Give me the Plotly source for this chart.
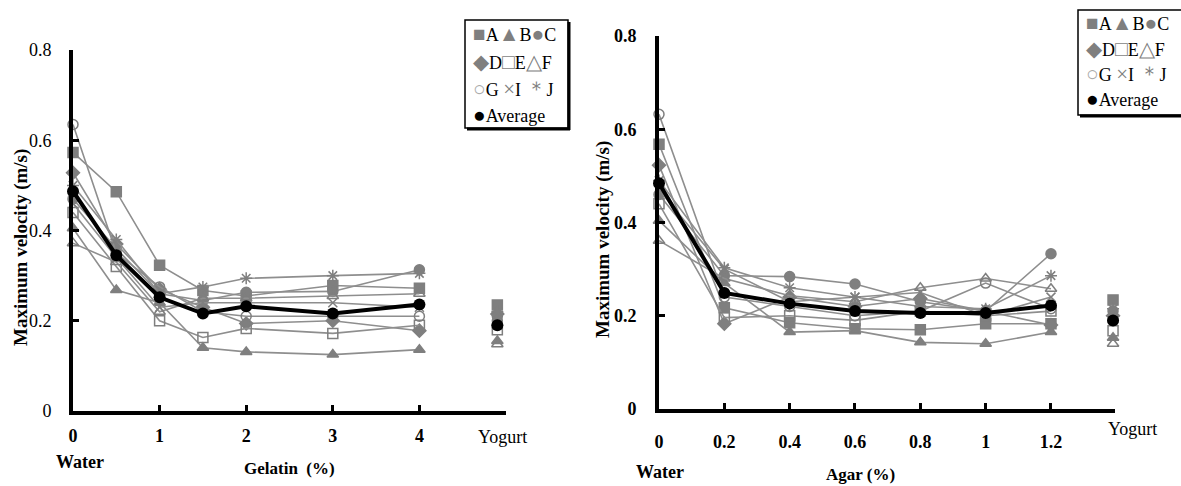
import plotly.graph_objects as go

W, H = 1181, 486

# ---------------- data ----------------
gelatin_x = [0, 0.5, 1, 1.5, 2, 3, 4]
agar_x = [0, 0.2, 0.4, 0.6, 0.8, 1.0, 1.2]
gelatin_ticks = [0, 1, 2, 3, 4]
gelatin_ticktext = ["0", "1", "2", "3", "4"]
agar_ticks = [0, 0.2, 0.4, 0.6, 0.8, 1.0, 1.2]
agar_ticktext = ["0", "0.2", "0.4", "0.6", "0.8", "1", "1.2"]
y_ticks = [0, 0.2, 0.4, 0.6, 0.8]
y_ticktext = ["0", "0.2", "0.4", "0.6", "0.8"]
yogurt_pos_gelatin = 4.9
yogurt_pos_agar = 1.39

series_names = ["A", "B", "C", "D", "E", "F", "G", "I", "J"]

gelatin_vals = {
    "A": [0.573, 0.486, 0.323, 0.267, 0.255, 0.278, 0.272],
    "B": [0.405, 0.268, 0.240, 0.140, 0.131, 0.125, 0.136],
    "C": [0.470, 0.360, 0.260, 0.245, 0.263, 0.265, 0.313],
    "D": [0.528, 0.370, 0.270, 0.230, 0.194, 0.200, 0.178],
    "E": [0.440, 0.320, 0.200, 0.163, 0.183, 0.172, 0.190],
    "F": [0.372, 0.330, 0.220, 0.250, 0.250, 0.255, 0.260],
    "G": [0.635, 0.350, 0.275, 0.220, 0.210, 0.210, 0.210],
    "I": [0.460, 0.340, 0.230, 0.240, 0.240, 0.240, 0.230],
    "J": [0.500, 0.380, 0.260, 0.275, 0.294, 0.300, 0.305],
}
gelatin_avg = [0.487, 0.345, 0.252, 0.216, 0.232, 0.216, 0.236]
gelatin_yogurt = {"A": 0.235, "B": 0.155, "C": 0.200, "D": 0.215, "E": 0.180,
                  "F": 0.148, "G": 0.210, "I": 0.200, "J": 0.220}
gelatin_yogurt_avg = 0.190

agar_vals = {
    "A": [0.568, 0.217, 0.185, 0.172, 0.170, 0.183, 0.183],
    "B": [0.404, 0.270, 0.165, 0.168, 0.143, 0.140, 0.165],
    "C": [0.460, 0.286, 0.284, 0.268, 0.230, 0.210, 0.333],
    "D": [0.523, 0.183, 0.240, 0.220, 0.237, 0.210, 0.180],
    "E": [0.440, 0.196, 0.200, 0.190, 0.210, 0.200, 0.210],
    "F": [0.361, 0.280, 0.243, 0.230, 0.260, 0.280, 0.258],
    "G": [0.632, 0.240, 0.220, 0.200, 0.210, 0.270, 0.215],
    "I": [0.470, 0.300, 0.230, 0.240, 0.250, 0.200, 0.240],
    "J": [0.490, 0.303, 0.260, 0.240, 0.220, 0.215, 0.286],
}
agar_avg = [0.484, 0.249, 0.226, 0.210, 0.206, 0.206, 0.222]
agar_yogurt = {"A": 0.234, "B": 0.153, "C": 0.210, "D": 0.200, "E": 0.168,
               "F": 0.140, "G": 0.190, "I": 0.200, "J": 0.215}
agar_yogurt_avg = 0.190

# ---------------- styles ----------------
GRAY = "#7f7f7f"
LINE_GRAY = "#8e8e8e"
symbols = {"A": "square", "B": "triangle-up", "C": "circle", "D": "diamond",
           "E": "square-open", "F": "triangle-up-open", "G": "circle-open",
           "I": "x-thin-open", "J": "asterisk-open"}
sizes = {"A": 10, "B": 10, "C": 10, "D": 10, "E": 10, "F": 10, "G": 10,
         "I": 9, "J": 10}
FONT = "Liberation Serif"

fig = go.Figure()


def add_panel(xs, vals, avg, yog, yog_avg, yog_x, xa, ya):
    for n in series_names:
        fig.add_trace(go.Scatter(
            x=xs, y=vals[n], mode="lines+markers", xaxis=xa, yaxis=ya,
            line=dict(color=LINE_GRAY, width=1.6),
            marker=dict(symbol=symbols[n], size=sizes[n], color=GRAY,
                        line=dict(color=GRAY, width=1.5)),
            cliponaxis=False, showlegend=False, name=n))
        fig.add_trace(go.Scatter(
            x=[yog_x], y=[yog[n]], mode="markers", xaxis=xa, yaxis=ya,
            marker=dict(symbol=symbols[n], size=sizes[n], color=GRAY,
                        line=dict(color=GRAY, width=1.5)),
            cliponaxis=False, showlegend=False, name=n + " yogurt"))
    fig.add_trace(go.Scatter(
        x=xs, y=avg, mode="lines+markers", xaxis=xa, yaxis=ya,
        line=dict(color="black", width=4),
        marker=dict(symbol="circle", size=12, color="black"),
        cliponaxis=False, showlegend=False, name="Average"))
    fig.add_trace(go.Scatter(
        x=[yog_x], y=[yog_avg], mode="markers", xaxis=xa, yaxis=ya,
        marker=dict(symbol="circle", size=12, color="black"),
        cliponaxis=False, showlegend=False, name="Average yogurt"))


add_panel(gelatin_x, gelatin_vals, gelatin_avg, gelatin_yogurt,
          gelatin_yogurt_avg, yogurt_pos_gelatin, "x", "y")
add_panel(agar_x, agar_vals, agar_avg, agar_yogurt,
          agar_yogurt_avg, yogurt_pos_agar, "x2", "y2")


def px(x):
    return x / W


def py(y):
    return 1 - y / H


axis_common = dict(showgrid=False, zeroline=False, showline=True,
                   linecolor="black", ticks="inside", ticklen=6,
                   tickwidth=3, tickcolor="black", automargin=False)

fig.update_layout(
    template="none",
    width=W, height=H,
    margin=dict(l=0, r=0, t=0, b=0, pad=0),
    plot_bgcolor="white", paper_bgcolor="white",
    xaxis=dict(domain=[px(73), px(506)], range=[0, 5], tickvals=gelatin_ticks,
               ticktext=gelatin_ticktext, linewidth=3.5, anchor="y",
               tickfont=dict(family=FONT, size=18, color="black", weight="bold"),
               ticklabelstandoff=6, **axis_common),
    yaxis=dict(domain=[py(411), py(50)], range=[0, 0.8], tickvals=y_ticks,
               ticktext=y_ticktext, linewidth=4, anchor="x",
               tickfont=dict(family=FONT, size=18, color="black"),
               ticklabelstandoff=14, **axis_common),
    xaxis2=dict(domain=[px(659), px(1115)], range=[0, 1.396], tickvals=agar_ticks,
                ticktext=agar_ticktext, linewidth=3.5, anchor="y2",
                tickfont=dict(family=FONT, size=18, color="black", weight="bold"),
                ticklabelstandoff=14, **axis_common),
    yaxis2=dict(domain=[py(409), py(36)], range=[0, 0.8], tickvals=y_ticks,
                ticktext=y_ticktext, linewidth=4, anchor="x2",
                tickfont=dict(family=FONT, size=18, color="black", weight="bold"),
                ticklabelstandoff=15, **axis_common),
)

annotations = []


def text(x, y, s, size=17, bold=False, angle=0, xanchor="center", color="black"):
    annotations.append(dict(
        x=px(x), y=py(y), xref="paper", yref="paper", text=s, showarrow=False,
        xanchor=xanchor, yanchor="middle", textangle=angle,
        font=dict(family=FONT, size=size, color=color,
                  weight="bold" if bold else "normal")))


# axis titles / labels
text(21, 248, "Maximum velocity (m/s)", size=19, bold=True, angle=-90)
text(603, 240, "Maximum velocity (m/s)", size=19, bold=True, angle=-90)
text(80, 462, "Water", size=18, bold=True)
text(289, 468, "Gelatin  (%)", size=17, bold=True)
text(503, 437, "Yogurt", size=18)
text(660, 472, "Water", size=18, bold=True)
text(860, 474, "Agar (%)", size=17, bold=True)
text(1132, 429, "Yogurt", size=18)


def g(s, color=GRAY):
    return '<span style="color:%s;font-size:21px">%s</span>' % (color, s)


legend_rows = [
    g("■") + "A" + g("▲") + "B" + g("●") + "C",
    g("◆") + "D" + g("□") + "E" + g("△") + "F",
    g("○", "#aaaaaa") + "G " + g("×") + "I " + g("＊") + "J",
    g("●", "black") + "Average",
]

shapes = []


def legend_box(x0, x1, y0, y1, rows_y, tx):
    shapes.append(dict(type="rect", xref="paper", yref="paper",
                       x0=px(x0), x1=px(x1), y0=py(y1), y1=py(y0),
                       line=dict(color="black", width=1.5), fillcolor="white",
                       layer="below"))
    shapes.append(dict(type="line", xref="paper", yref="paper",
                       x0=px(x0 + 2), x1=px(x1 + 2), y0=py(y1 + 1), y1=py(y1 + 1),
                       line=dict(color="black", width=3)))
    shapes.append(dict(type="line", xref="paper", yref="paper",
                       x0=px(x1 + 1), x1=px(x1 + 1), y0=py(y0 + 2), y1=py(y1 + 2),
                       line=dict(color="black", width=3)))
    for ry, row in zip(rows_y, legend_rows):
        text(tx, ry, row, size=18, xanchor="left")


legend_box(465, 568, 20, 128, [34, 62, 89, 115], 471)
legend_box(1078, 1195, 10, 115, [23, 49, 74, 99], 1084)

fig.update_layout(annotations=annotations, shapes=shapes)

fig.write_html(
    "out.html",
    config={"displayModeBar": False},
    post_script="document.body.style.margin='0';document.body.style.padding='0';"
                "document.documentElement.style.overflow='hidden';",
)
